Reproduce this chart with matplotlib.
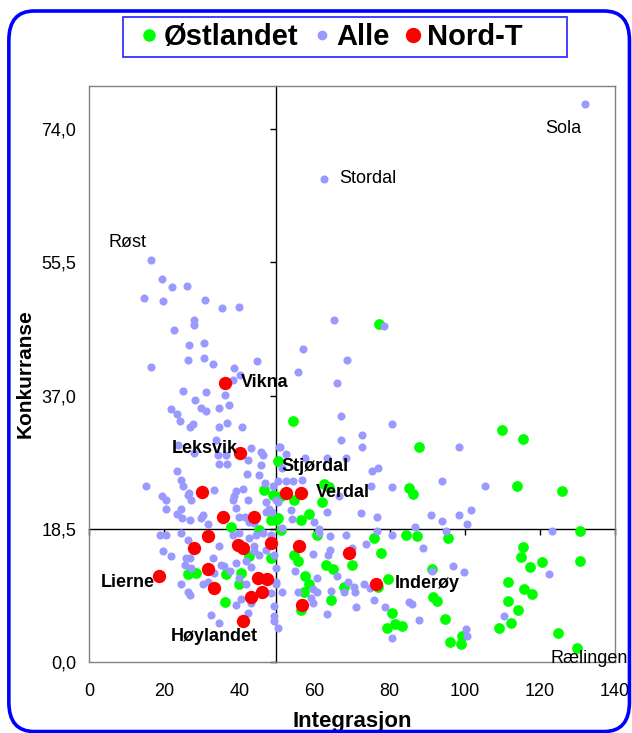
import matplotlib.pyplot as plt
from matplotlib.lines import Line2D
from matplotlib.patches import FancyBboxPatch, Rectangle
from matplotlib.ticker import FuncFormatter

plt.rcParams['font.family'] = ['Liberation Sans', 'DejaVu Sans']

# Østlandet (green)
ost_x = [109.9, 115.4, 113.8, 125.9, 130.6, 95.5, 115.4, 115.0, 117.4, 120.5,
         130.6, 111.5, 115.8, 117.8, 111.5, 114.3, 112.4, 109.2, 124.7, 129.8,
         94.7, 96.0, 99.1, 99.3, 84.4, 87.3, 75.8, 77.6, 54.6, 55.5,
         63.2, 65.0, 69.9, 79.6, 57.5, 58.6, 57.3, 67.9, 64.4, 56.4,
         80.7, 79.4, 81.4, 83.2, 91.3, 91.5, 92.6, 60.8, 87.8, 85.1,
         86.3, 77.0, 77.2, 54.4, 50.2, 62.6, 63.9, 54.6, 62.1, 58.6,
         56.4, 49.8, 48.9, 46.7, 51.1, 48.4, 37.8, 45.3, 51.1, 26.3,
         28.6, 36.5, 40.5, 40.0, 36.3, 42.7, 48.4, 50.2]
ost_y = [32.2, 31.0, 24.5, 23.7, 18.2, 17.2, 16.0, 14.6, 13.2, 13.9,
         14.1, 11.2, 10.1, 9.5, 8.5, 7.2, 5.4, 4.8, 4.0, 2.0,
         6.0, 2.8, 2.6, 3.7, 17.6, 17.5, 17.2, 15.1, 14.9, 14.0,
         13.5, 13.0, 13.5, 11.6, 12.0, 10.8, 9.8, 10.5, 8.7, 7.3,
         6.8, 4.7, 5.3, 5.1, 13.0, 9.1, 8.5, 17.7, 29.9, 24.2,
         23.3, 10.5, 46.9, 33.5, 27.9, 24.7, 24.3, 22.5, 22.2, 20.6,
         19.8, 19.8, 23.2, 23.9, 23.1, 19.8, 18.8, 18.4, 18.4, 12.2,
         12.4, 12.2, 12.4, 10.8, 8.4, 14.7, 14.5, 20.0]

# Alle (light blue)
alle_x = [132.1, 62.6, 16.6, 19.3, 22.1, 26.0, 14.7, 19.7, 31.0, 35.4,
          40.0, 27.9, 27.9, 22.5, 26.7, 30.6, 26.3, 30.6, 33.0, 44.6,
          16.6, 38.7, 40.3, 38.3, 36.1, 25.0, 31.2, 28.3, 65.2, 78.5,
          57.0, 68.8, 55.5, 65.9, 67.2, 80.7, 72.6, 72.6, 98.4, 75.4,
          77.0, 94.0, 80.7, 105.3, 75.0, 67.2, 50.9, 52.4, 63.3, 68.5,
          57.5, 51.5, 48.9, 52.4, 66.6, 48.7, 53.8, 54.0, 63.3, 72.3,
          76.6, 90.9, 94.0, 101.7, 98.6, 100.7, 95.1, 86.7, 123.2, 76.6,
          61.1, 51.5, 50.2, 54.2, 56.7,
          21.7, 23.3, 24.1, 29.7, 31.2, 34.5, 37.2, 26.8, 27.7, 34.7,
          36.8, 40.7, 23.7, 33.9, 27.9, 43.1, 45.8, 46.2, 34.5, 36.8,
          45.8, 23.3, 42.1, 45.3, 24.4, 15.1, 25.0, 26.6, 33.2, 39.2,
          40.9, 46.9, 19.3, 20.6, 27.2, 38.3, 42.2, 20.6, 24.6, 23.4,
          27.0, 30.3, 40.0, 47.8, 31.8, 42.7, 39.2, 50.6, 42.4, 38.5,
          41.4, 44.0, 47.1, 47.1, 49.9, 50.3, 59.9, 26.3, 29.9, 24.8,
          34.3, 36.5,
          18.8, 20.6, 24.4, 26.3, 19.7, 21.9, 25.7, 26.8, 25.5, 27.2,
          34.7, 35.2, 33.4, 39.0, 37.4, 35.9, 31.6, 24.6, 26.3, 26.8,
          30.3, 40.0, 41.8, 43.1, 41.8, 45.3, 47.1, 43.8, 42.5, 38.3,
          40.0, 44.5, 46.2, 49.3, 32.5, 34.6, 42.4, 49.3, 43.1, 33.0,
          44.0, 48.4, 49.8, 49.8, 48.4, 49.3, 49.3, 50.2, 39.1, 40.5,
          54.9, 55.5, 63.5, 70.1, 70.5, 51.4,
          61.1, 64.1, 68.3, 80.7, 73.8, 88.8, 64.2, 59.7, 66.1, 60.6,
          49.8, 69.0, 73.2, 74.7, 59.7, 60.8, 64.5, 67.9, 70.8, 59.1,
          59.7, 75.8, 85.1, 86.0, 78.8, 71.1, 63.3, 87.8, 80.7,
          96.8, 99.9, 122.5, 110.5, 100.3, 100.7, 91.3]
alle_y = [77.5, 67.1, 55.8, 53.2, 52.0, 52.2, 50.5, 50.1, 50.3, 49.1,
          49.3, 47.5, 46.8, 46.1, 44.0, 44.3, 42.0, 42.2, 41.4, 41.8,
          41.0, 40.8, 39.8, 39.2, 37.1, 37.6, 37.5, 36.4, 47.5, 46.7,
          43.4, 41.9, 40.3, 38.7, 34.2, 33.0, 31.6, 29.8, 29.8, 26.6,
          26.9, 25.1, 24.3, 24.5, 24.4, 30.9, 29.8, 28.9, 28.3, 28.3,
          28.3, 26.9, 24.4, 25.1, 23.0, 20.9, 21.1, 19.9, 20.9, 20.7,
          20.2, 20.5, 19.6, 21.1, 20.5, 19.2, 18.2, 18.7, 18.2, 18.2,
          18.5, 18.6, 22.3, 25.2, 25.3,
          35.2, 34.5, 33.5, 35.3, 34.9, 35.3, 35.7, 32.7, 33.0, 32.7,
          33.2, 32.6, 30.2, 30.9, 29.1, 29.7, 29.2, 28.8, 27.5, 27.5,
          27.4, 26.6, 26.1, 26.0, 25.3, 24.5, 24.5, 23.5, 23.9, 23.8,
          24.1, 24.9, 23.1, 22.5, 22.5, 22.5, 22.5, 21.3, 21.3, 20.6,
          19.8, 20.5, 20.2, 21.2, 19.2, 19.5, 21.4, 29.8, 28.1, 23.0,
          20.1, 19.3, 20.8, 22.3, 22.5, 25.1, 19.5, 23.2, 20.0, 20.0,
          28.7, 28.8,
          17.6, 17.6, 17.9, 16.9, 15.4, 14.7, 14.5, 14.5, 13.5, 13.1,
          16.1, 13.5, 12.4, 13.8, 12.6, 13.3, 11.2, 10.8, 9.8, 9.4,
          10.8, 11.7, 10.8, 13.2, 14.0, 14.9, 15.6, 16.2, 17.2, 17.7,
          17.9, 17.7, 17.9, 14.9, 6.6, 5.4, 6.8, 5.7, 8.2, 14.5,
          15.4, 17.7, 13.1, 10.8, 9.6, 7.8, 6.4, 4.8, 8.0, 8.8,
          12.6, 9.8, 14.9, 15.8, 10.5, 9.8,
          17.9, 17.5, 17.6, 17.6, 16.4, 15.8, 15.6, 15.0, 11.9, 11.7,
          11.2, 11.2, 10.9, 10.3, 10.1, 9.8, 9.9, 9.7, 9.8, 8.9,
          8.2, 8.7, 8.4, 8.1, 7.6, 7.6, 6.7, 5.8, 3.4,
          13.4, 12.5, 12.2, 6.4, 4.6, 3.7, 12.7]

# Nord-Trøndelag (red)
nord_x = [36.1, 40.3, 30.2, 35.6, 43.8, 52.4, 56.4, 18.6, 27.9, 31.8,
          39.6, 41.1, 48.4, 31.6, 33.2, 44.9, 47.5, 46.1, 43.1, 41.1,
          56.0, 69.2, 76.5, 56.7]
nord_y = [38.8, 29.1, 23.6, 20.2, 20.2, 23.5, 23.5, 11.9, 15.8, 17.5,
          16.3, 15.8, 16.5, 13.0, 10.3, 11.7, 11.5, 9.8, 9.1, 5.7,
          16.2, 15.1, 10.9, 7.9]

# named municipalities: (name, series, index)
named = [('Sola', 'alle', 0), ('Stordal', 'alle', 1), ('Røst', 'alle', 2),
         ('Rælingen', 'ost', 19), ('Vikna', 'nord', 0), ('Leksvik', 'nord', 1),
         ('Stjørdal', 'nord', 5), ('Verdal', 'nord', 6), ('Lierne', 'nord', 7),
         ('Høylandet', 'nord', 19), ('Inderøy', 'nord', 22)]

yticks = [0.0, 18.5, 37.0, 55.5, 74.0]
xticks = [0, 20, 40, 60, 80, 100, 120, 140]
x_cross = 49.7
y_cross = 18.5

series = {'ost': (ost_x, ost_y), 'alle': (alle_x, alle_y), 'nord': (nord_x, nord_y)}

# label offsets in points, alignment, bold
label_style = {
    'Sola': ((-16, -18), 'center', False),
    'Stordal': ((11, 0), 'left', False),
    'Røst': ((-31, 13), 'left', False),
    'Rælingen': ((-19, -8), 'left', False),
    'Vikna': ((12, 0), 'left', True),
    'Leksvik': ((-2, 3), 'right', True),
    'Stjørdal': ((-3, 19), 'left', True),
    'Verdal': ((11, 0), 'left', True),
    'Lierne': ((-3, -4), 'right', True),
    'Høylandet': ((-21, -11), 'center', True),
    'Inderøy': ((13, 0), 'left', True),
}

fig = plt.figure(figsize=(6.32, 7.33), dpi=100)
pos = [0.1408, 0.0965, 0.8323, 0.7866]

# crossing axes lines with their tick marks (behind the data)
cross = fig.add_axes(pos, zorder=0)
cross.set_xlim(0, 140)
cross.set_ylim(0, 80)
for s in ['top', 'right']:
    cross.spines[s].set_visible(False)
cross.spines['left'].set_position(('data', x_cross))
cross.spines['bottom'].set_position(('data', y_cross))
cross.spines['left'].set_linewidth(1.0)
cross.spines['bottom'].set_linewidth(1.0)
cross.set_xticks(xticks)
cross.set_yticks(yticks)
cross.tick_params(direction='out', length=4, width=1, labelleft=False, labelbottom=False)

ax = fig.add_axes(pos, zorder=1)
ax.patch.set_alpha(0)
ax.set_xlim(0, 140)
ax.set_ylim(0, 80)
for s in ax.spines.values():
    s.set_color('#808080')
    s.set_linewidth(1.0)
ax.set_xticks(xticks)
ax.set_yticks(yticks)
ax.yaxis.set_major_formatter(FuncFormatter(lambda v, p: f'{v:.1f}'.replace('.', ',')))
ax.tick_params(axis='y', length=0, labelsize=13, pad=9)
ax.tick_params(axis='x', length=0, labelsize=13, pad=15)

ax.scatter(ost_x, ost_y, s=60, color='#00FF00', linewidths=0, zorder=3)
ax.scatter(alle_x, alle_y, s=34, color='#9999FF', linewidths=0, zorder=4)
ax.scatter(nord_x, nord_y, s=92, color='#FF0000', linewidths=0, zorder=5)

for name, key, i in named:
    xs, ys = series[key]
    off, ha, bold = label_style[name]
    ax.annotate(name, (xs[i], ys[i]), xytext=off, textcoords='offset points',
                ha=ha, va='center', fontsize=13,
                fontweight='bold' if bold else 'normal', zorder=6,
                annotation_clip=False)

ax.set_xlabel('Integrasjon', fontsize=16, fontweight='bold', labelpad=8)
ax.set_ylabel('Konkurranse', fontsize=15, fontweight='bold')
ax.yaxis.set_label_coords(-0.104, 0.5)

handles = [
    Line2D([], [], marker='o', linestyle='none', color='#00FF00', markersize=8),
    Line2D([], [], marker='o', linestyle='none', color='#9999FF', markersize=6),
    Line2D([], [], marker='o', linestyle='none', color='#FF0000', markersize=10),
]
fig.legend(handles, ['Østlandet', 'Alle', 'Nord-T'], ncol=3,
           loc='center', bbox_to_anchor=(0.527, 0.9495),
           prop={'size': 21, 'weight': 'bold'}, frameon=False,
           handlelength=0.4, handletextpad=0.3, columnspacing=0.6,
           borderpad=0, borderaxespad=0)
fig.patches.append(Rectangle((0.1946, 0.9222), 0.7025, 0.0546,
                             transform=fig.transFigure, fill=False,
                             edgecolor='#3333FF', linewidth=1.3))

border = FancyBboxPatch((0.014, 0.002), 0.982, 0.983,
                        boxstyle='round,pad=0,rounding_size=0.04',
                        transform=fig.transFigure, fill=False,
                        edgecolor='#0000FF', linewidth=2.6)
fig.patches.append(border)

fig.savefig('out.png', dpi=100)
